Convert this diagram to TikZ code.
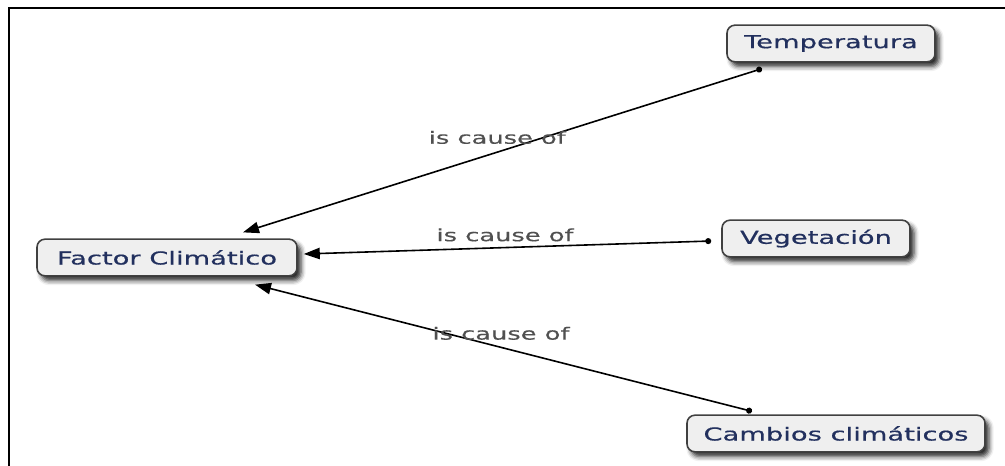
\documentclass[tikz,border=0pt]{standalone}
\usepackage{fontspec}
\usetikzlibrary{arrows.meta,calc,shadows.blur}
\newfontfamily\conceptfont[FakeStretch=1.53,FakeBold=0.6]{DejaVu Sans}
\newfontfamily\linkfont[FakeStretch=1.53,FakeBold=0.3]{DejaVu Sans}
\definecolor{concepttext}{HTML}{22305E}
\definecolor{conceptfill}{HTML}{EFEFEF}
\definecolor{conceptline}{HTML}{404040}
\definecolor{linktext}{HTML}{505050}
\tikzset{
  concept/.style={draw=conceptline, line width=1.2pt, fill=conceptfill,
    rounded corners=6pt, minimum height=27.5pt, inner sep=0pt,
    font=\conceptfont\fontsize{13.4pt}{15pt}\selectfont, text=concepttext,
    blur shadow={shadow xshift=3pt, shadow yshift=-3.5pt,
      shadow blur radius=3.5pt, shadow opacity=85}},
  link/.style={line width=1.2pt, black,
    {Circle[length=4.5pt]}-{Triangle[length=12pt,width=8.5pt]}},
  linklabel/.style={font=\linkfont\fontsize{12.6pt}{15pt}\selectfont,
    text=linktext, inner sep=0pt},
  frameline/.style={line width=1.5pt, black}
}
\begin{document}
\begin{tikzpicture}[x=0.75pt,y=-0.75pt]
\useasboundingbox (0,0) rectangle (1005,466);
% outer frame (top and left edges only)
\draw[frameline] (9,466) -- (9,8) -- (1005,8);

% concepts
\node[concept, minimum width=195pt] (F) at (167,257.5) {Factor Climático};
\node[concept, minimum width=156pt] (T) at (831,43.5) {Temperatura};
\node[concept, minimum width=141pt] (V) at (816,238.5) {Vegetación};
\node[concept, minimum width=223.5pt] (C) at (836,433.5) {Cambios climáticos};

% links
\draw[link] ($(T.south)+(-69,6)$) -- ($(F.north)+(76,-6)$)
  node[linklabel, pos=0.51, yshift=11pt] (l1) {is cause of};
\draw[link] ($(V.west)+(-10,2.5)$) -- ($(F.east)+(6,-3.5)$)
  node[linklabel, pos=0.506, yshift=9.5pt] (l2) {is cause of};
\draw[link] ($(C.north)+(-84,-3)$) -- ($(F.south)+(88,8)$)
  node[linklabel, pos=0.505, yshift=10.5pt] (l3) {is cause of};
\end{tikzpicture}
\end{document}
